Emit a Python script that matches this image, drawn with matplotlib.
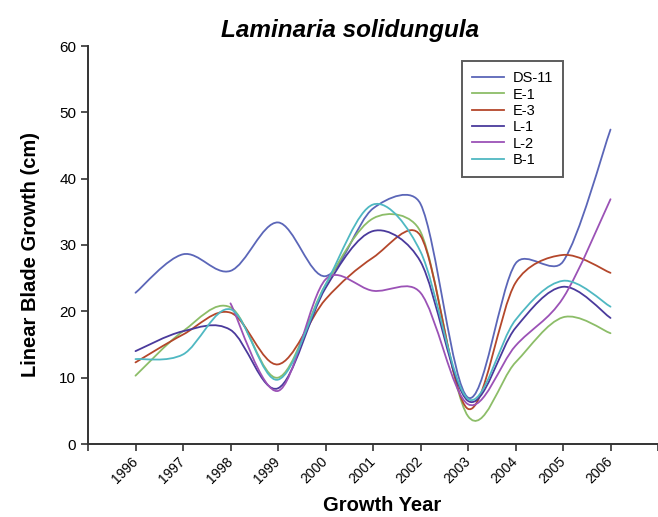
import matplotlib

matplotlib.use("Agg")
import matplotlib.pyplot as plt
import matplotlib.transforms as mtransforms
import numpy as np
from matplotlib.lines import Line2D
from matplotlib.patches import PathPatch
from matplotlib.path import Path

plt.rcParams["font.family"] = ["Liberation Sans", "DejaVu Sans"]

YEARS = [1996, 1997, 1998, 1999, 2000, 2001, 2002, 2003, 2004, 2005, 2006]
DS_11 = [22.8, 28.6, 26.1, 33.4, 25.3, 35.5, 36.2, 7.0, 27.2, 27.5, 47.4]
E_1 = [10.3, 17.0, 20.6, 10.0, 24.0, 34.0, 32.0, 4.2, 12.3, 19.1, 16.7]
E_3 = [12.3, 16.5, 19.8, 12.0, 21.8, 28.1, 31.4, 5.3, 24.3, 28.5, 25.8]
L_1 = [14.0, 17.0, 17.2, 8.4, 23.5, 32.1, 27.5, 6.5, 17.5, 23.7, 19.0]
L_2 = [None, None, 21.2, 8.0, 24.8, 23.1, 22.8, 6.0, 14.8, 22.0, 36.9]
B_1 = [12.8, 13.5, 20.3, 9.7, 24.0, 36.1, 29.0, 6.8, 18.7, 24.6, 20.7]

SERIES = [
    ("DS-11", DS_11, "#5b66b8"),
    ("E-1", E_1, "#8cbd68"),
    ("E-3", E_3, "#b4472b"),
    ("L-1", L_1, "#4a3a9c"),
    ("L-2", L_2, "#9b52b6"),
    ("B-1", B_1, "#4fb8c2"),
]


def smooth_path(ax, xs, ys, clip=0.4):
    """Smoothed line like Excel's: Catmull-Rom Bezier arms, capped by chord length."""
    pts = ax.transData.transform(np.column_stack([xs, ys]))
    n = len(pts)
    out_arm, in_arm = [], []
    for i in range(n):
        prev = pts[i - 1] if i > 0 else pts[i]
        nxt = pts[i + 1] if i < n - 1 else pts[i]
        arm = (nxt - prev) / 6
        length = max(np.hypot(*arm), 1e-9)
        back = np.hypot(*(pts[i] - prev))
        fwd = np.hypot(*(nxt - pts[i]))
        in_arm.append(arm * min(1, clip * back / length) if i > 0 else arm)
        out_arm.append(arm * min(1, clip * fwd / length) if i < n - 1 else arm)
    verts = [pts[0]]
    codes = [Path.MOVETO]
    for i in range(n - 1):
        verts += [pts[i] + out_arm[i], pts[i + 1] - in_arm[i + 1], pts[i + 1]]
        codes += [Path.CURVE4] * 3
    verts = ax.transData.inverted().transform(np.array(verts))
    return Path(verts, codes)


fig = plt.figure(figsize=(6.58, 5.17), dpi=100)
ax = fig.add_axes([88 / 658, 73 / 517, 570 / 658, 398 / 517])
ax.set_xlim(1995, 2007)
ax.set_ylim(0, 60)

handles = []
for name, values, color in SERIES:
    xs = [x for x, v in zip(YEARS, values) if v is not None]
    ys = [v for v in values if v is not None]
    path = smooth_path(ax, xs, ys)
    ax.add_patch(PathPatch(path, facecolor="none", edgecolor=color, linewidth=1.3, capstyle="round"))
    handles.append(Line2D([], [], color=color, linewidth=1.3, label=name))

ax.set_yticks(range(0, 61, 10))
ax.set_xticks(range(1995, 2008))
ax.set_xticklabels([""] + [str(y) for y in YEARS] + [""], rotation=45, ha="right",
                   va="center", rotation_mode="anchor")
shift = mtransforms.ScaledTranslation(5 / 100, 5 / 100, fig.dpi_scale_trans)
for label in ax.get_xticklabels():
    label.set_transform(label.get_transform() + shift)
ax.tick_params(axis="y", labelsize=11, length=5, width=1.2, color="#333333")
ax.tick_params(axis="x", labelsize=10, length=5, width=1.2, color="#333333", pad=6)
for side in ["top", "right"]:
    ax.spines[side].set_visible(False)
for side in ["left", "bottom"]:
    ax.spines[side].set_linewidth(1.4)
    ax.spines[side].set_color("#333333")

ax.set_ylabel("Linear Blade Growth (cm)", fontsize=14.5, fontweight="bold")
ax.yaxis.set_label_coords(-0.084, 0.475)
ax.set_xlabel("Growth Year", fontsize=14.5, fontweight="bold")
ax.xaxis.set_label_coords(0.516, -0.131)
fig.text(350 / 658, 1 - 31 / 517, "Laminaria solidungula", fontsize=17.5, fontweight="bold",
         fontstyle="italic", ha="center", va="center")

leg = ax.legend(handles=handles, loc="upper left", bbox_to_anchor=(462 / 658, 1 - 61 / 517),
                bbox_transform=fig.transFigure, fontsize=10.5, frameon=True, fancybox=False,
                edgecolor="#333333", borderaxespad=0, labelspacing=0.16, handlelength=2.2,
                handletextpad=0.55, borderpad=0.7)
leg.get_frame().set_linewidth(1.4)

fig.savefig("out.png", dpi=100)
